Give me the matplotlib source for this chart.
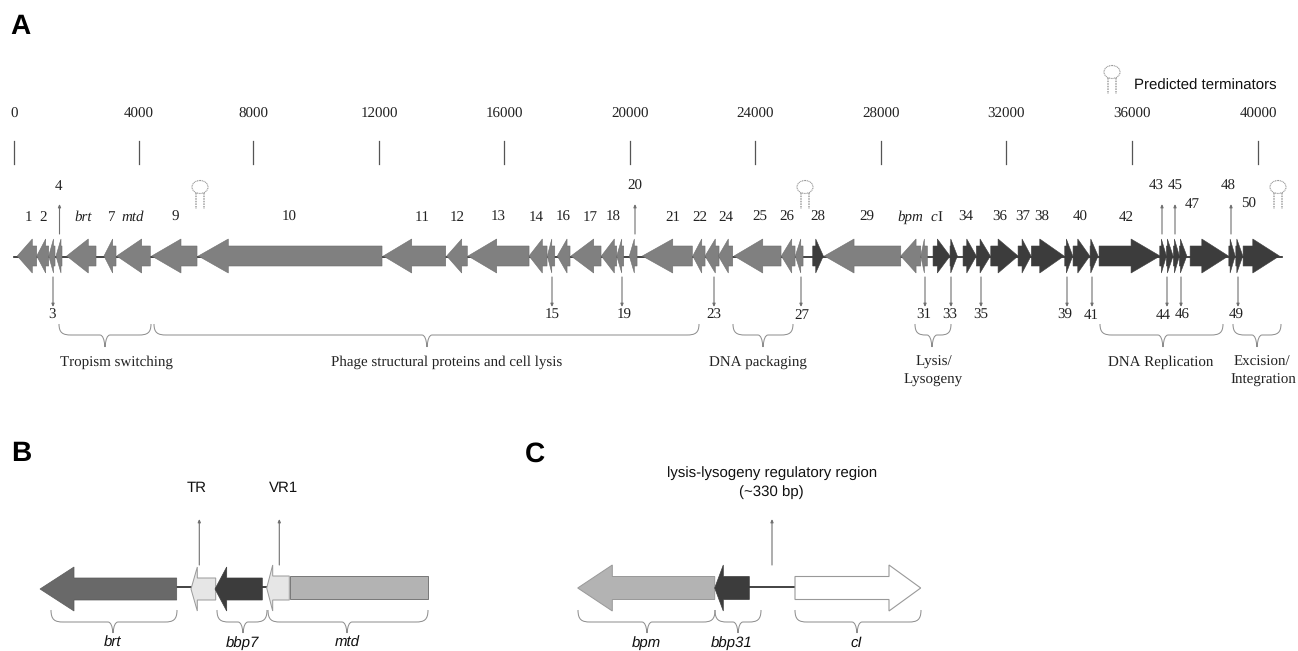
import matplotlib
matplotlib.use('Agg')
import matplotlib.pyplot as plt
from matplotlib.path import Path
from matplotlib.patches import PathPatch, Ellipse

plt.rcParams['text.hinting'] = 'none'
plt.rcParams['text.hinting_factor'] = 1

# panel A genes, positions in bp
gene_names = ['1','2','3','4','brt','7','mtd','9','10','11','12','13','14','15','16','17','18','19','20','21',
              '22','23','24','25','26','27','28','29','bpm','31','cI','33','34','35','36','37','38','39','40','41',
              '42','43','44','45','46','47','48','49','50']
gene_left = [105,724,1107,1340,1681,2871,3276,4393,5879,11781,13803,14483,16429,17013,17331,17768,18735,19226,19628,20043,
             21651,22043,22467,22968,24477,24923,25478,25849,28286,28924,29316,29858,30273,30697,31157,32028,32452,33517,33782,34325,
             34612,36548,36759,36983,37174,37516,38751,38974,39206]
gene_head = [584,1011,1260,1499,2370,3148,4074,5327,6836,12687,14282,15398,16853,17154,17641,18492,19150,19386,19787,21013,
             21938,22371,22786,23884,24809,25096,25574,26796,28774,29039,29453,29881,30391,30815,31390,32155,32720,33568,33932,34347,
             35632,36599,36791,37015,37206,37889,38792,39006,39515]
gene_right = [724,1107,1308,1531,2616,3254,4348,5838,11739,13771,14460,16429,17003,17249,17736,18725,19226,19449,19874,21638,
              22043,22489,22926,24467,24914,25169,25816,28286,28924,29135,29858,30091,30697,31144,32028,32442,33495,33772,34315,34580,
              36557,36759,36973,37174,37410,38738,38952,39197,40364]
forward_genes = ['28','cI','33','34','35','36','37','38','39','40','41','42','43','44','45','46','47','48','49','50']

tick_labels = ['0','4000','8000','12000','16000','20000','24000','28000','32000','36000','40000']
tick_px = [14,139,253,379,504,630,755,881,1006,1132,1258]

# label text, x, y
row_labels = [('1',28,216),('2',43,216),('7',111,216),('9',175,216),('10',289,216),('11',422,216),('12',457,216),
              ('13',498,216),('14',536,216),('16',563,216),('17',590,216),('18',613,216),('21',673,216),('22',700,216),
              ('24',726,216),('25',760,216),('26',787,216),('28',818,216),('29',867,216),('34',966,216),('36',1000,216),
              ('37',1023,216),('38',1042,216),('40',1080,216),('42',1126,216),('47',1192,203),('50',1249,203),
              ('4',58,185),('20',635,185),('43',1156,185),('45',1175,185),('48',1228,185),
              ('3',52,314),('15',552,314),('19',624,314),('23',714,314),('27',802,314),('31',924,314),('33',950,314),
              ('35',981,314),('39',1065,314),('41',1091,314),('44',1163,314),('46',1182,314),('49',1236,314)]
italic_labels = [('brt',83,216),('mtd',133,216),('bpm',910,216)]
up_arrows = [59.5,635,1162,1175,1231]
down_arrows = [53,552,622,714,801,925,951,981,1067,1092,1167,1181,1238]

# left, right, tip of each brace
a_braces = [(59,151,105),(154,699,427),(733,793,763),(915,951,932),(1100,1223,1163),(1233,1281,1257)]
a_brace_labels = [('Tropism switching',116,362),('Phage structural proteins and cell lysis',446.5,362),('DNA packaging',758,362),
                  ('Lysis/',934,362),('Lysogeny',933,380),('DNA Replication',1161,362),('Excision/',1262,362),('Integration',1263,380)]
hairpins = [(200,187),(805,187),(1278,187),(1112,72)]

b_braces = [(51,177,113),(217,267,243),(268,428,347)]
c_braces = [(578,715,647),(715,761,738),(795,921,857)]

K = 0.03135  # px per bp in panel A
Y0 = 256

fig = plt.figure(figsize=(12.98,6.51), dpi=100)
ax = fig.add_axes([0,0,1,1])
ax.set_xlim(0,1298)
ax.set_ylim(651,0)
ax.axis('off')
# same area, x in bp for the genes
axa = fig.add_axes([0,0,1,1])
axa.set_xlim(-14/K,(1298-14)/K)
axa.set_ylim(651,0)
axa.axis('off')
axa.patch.set_alpha(0)

SERIF = 'Liberation Serif'
SANS = 'Liberation Sans'

def arrow_shape(tail, hb, tip, y0, body, head):
    xs = [tail,hb,hb,tip,hb,hb,tail]
    ys = [y0-body,y0-body,y0-head,y0,y0+head,y0+body,y0+body]
    return xs,ys

def brace(x0, x1, tip, ytop, ymid, ybot):
    r = min(8,(x1-x0)/5)
    verts = [(x0,ytop),(x0,ymid-2),(x0+r/2,ymid),(x0+r*1.5,ymid),
             (tip-5,ymid),(tip-1,ymid),(tip,ybot),
             (tip+1,ymid),(tip+5,ymid),(x1-r*1.5,ymid),
             (x1-r/2,ymid),(x1,ymid-2),(x1,ytop)]
    codes = [Path.MOVETO,Path.CURVE4,Path.CURVE4,Path.CURVE4,
             Path.LINETO,Path.CURVE3,Path.CURVE3,
             Path.CURVE3,Path.CURVE3,Path.LINETO,
             Path.CURVE4,Path.CURVE4,Path.CURVE4]
    ax.add_patch(PathPatch(Path(verts,codes),fill=False,ec='#8a8a8a',lw=0.7))

def thin_arrow(x, y0, y1):
    ax.annotate('',xy=(x,y1),xytext=(x,y0),arrowprops=dict(arrowstyle='-|>,head_width=0.08,head_length=0.18',color='#707070',lw=0.8,shrinkA=0,shrinkB=0))

def hairpin(x, y):
    ax.add_patch(Ellipse((x,y),16,13,fill=False,ec='#999999',lw=0.8,ls=(0,(1,0.6))))
    ax.plot([x-4,x-4],[y+6,y+22],color='#a0a0a0',lw=1.1,ls=(0,(1,0.7)))
    ax.plot([x+4,x+4],[y+6,y+22],color='#a0a0a0',lw=1.1,ls=(0,(1,0.7)))

# panel letters
ax.text(10,27,'A',fontsize=20,fontweight='bold',family=SANS,va='center')
ax.text(11,454,'B',fontsize=20,fontweight='bold',family=SANS,va='center')
ax.text(525,454,'C',fontsize=20,fontweight='bold',family=SANS,va='center')

# scale
for lab,x in zip(tick_labels,tick_px):
    ax.text(x,114,lab,fontsize=11,family=SERIF,ha='center',va='center',color='#222222')
    ax.plot([x,x],[141,164],color='#555555',lw=0.9)

ax.text(1134,85.5,'Predicted terminators',fontsize=10.7,family=SANS,va='center',color='#111111')
for x,y in hairpins:
    hairpin(x,y)

# genes
ax.plot([14,1282],[257,257],color='#222222',lw=1.2,zorder=1)
for name,l,h,r in zip(gene_names,gene_left,gene_head,gene_right):
    if name in forward_genes:
        xs,ys = arrow_shape(l,h,r,Y0,10,17)
        col = '#3c3c3c'
    else:
        xs,ys = arrow_shape(r,h,l,Y0,10,17)
        col = '#808080'
    axa.fill(xs,ys,facecolor=col,edgecolor='#6e6e6e' if col=='#808080' else col,lw=0.4,zorder=2)

for lab,x,y in row_labels:
    ax.text(x,y+1,lab,fontsize=11,family=SERIF,ha='center',va='center',color='#222222')
for lab,x,y in italic_labels:
    ax.text(x,y+1,lab,fontsize=11,family=SERIF,style='italic',ha='center',va='center',color='#222222')
ax.text(937.5,217,'c',fontsize=11,family=SERIF,style='italic',ha='right',va='center',color='#222222')
ax.text(937.5,217,'I',fontsize=11,family=SERIF,ha='left',va='center',color='#222222')

for x in up_arrows:
    thin_arrow(x,234,204)
for x in down_arrows:
    thin_arrow(x,277,307)

for x0,x1,tip in a_braces:
    brace(x0,x1,tip,324,335,347)
for lab,x,y in a_brace_labels:
    ax.text(x,y,lab,fontsize=11,family=SERIF,ha='center',va='center',color='#222222')

# panel B
yline = 587
ax.plot([177,192],[yline,yline],color='#222222',lw=1.2,zorder=1)
ax.plot([262,268],[yline,yline],color='#222222',lw=1.2,zorder=1)
xs,ys = arrow_shape(176.7,74,40,589,11,22)
ax.fill(xs,ys,facecolor='#696969',edgecolor='#5a5a5a',lw=0.5)
xs,ys = arrow_shape(215.7,197.3,191,589,11,22)
ax.fill(xs,ys,facecolor='#e6e6e6',edgecolor='#999999',lw=0.7)
xs,ys = arrow_shape(262.3,226.7,215,589,11,22)
ax.fill(xs,ys,facecolor='#3c3c3c',edgecolor='#3c3c3c',lw=0.5)
xs,ys = arrow_shape(289.3,272.7,266.7,588,12,23)
ax.fill(xs,ys,facecolor='#e6e6e6',edgecolor='#999999',lw=0.7)
ax.fill([290,427.7,427.7,290],[576,576,598.5,598.5],facecolor='#b3b3b3',edgecolor='#777777',lw=0.7)
thin_arrow(199.3,565,519)
thin_arrow(279.3,565,519)
ax.text(196.7,488.5,'TR',fontsize=10.8,family=SANS,ha='center',va='center',color='#111111')
ax.text(283.7,488.5,'VR1',fontsize=10.8,family=SANS,ha='center',va='center',color='#111111')
for x0,x1,tip in b_braces:
    brace(x0,x1,tip,610,622,633)
for lab,x in [('brt',113),('bbp7',242),('mtd',347.7)]:
    ax.text(x,643,lab,fontsize=10.8,family=SANS,style='italic',ha='center',va='center',color='#111111')

# panel C
ax.plot([749,795],[yline,yline],color='#222222',lw=1.2,zorder=1)
xs,ys = arrow_shape(714.7,612.3,577.7,588,11.5,23)
ax.fill(xs,ys,facecolor='#b3b3b3',edgecolor='#999999',lw=0.7)
xs,ys = arrow_shape(749.3,723.3,714.7,588,11.5,23)
ax.fill(xs,ys,facecolor='#3c3c3c',edgecolor='#3c3c3c',lw=0.5)
xs,ys = arrow_shape(795,889,920.7,588,11.5,23)
ax.fill(xs,ys,facecolor='white',edgecolor='#999999',lw=0.8)
thin_arrow(772,565,519)
ax.text(771.7,473,'lysis-lysogeny regulatory region',fontsize=10.8,family=SANS,ha='center',va='center',color='#111111')
ax.text(771.7,492,'(~330 bp)',fontsize=10.8,family=SANS,ha='center',va='center',color='#111111')
for x0,x1,tip in c_braces:
    brace(x0,x1,tip,610,622,633)
for lab,x in [('bpm',646),('bbp31',731.7),('cI',856.7)]:
    ax.text(x,643,lab,fontsize=10.8,family=SANS,style='italic',ha='center',va='center',color='#111111')

fig.savefig('out.png',dpi=100)
